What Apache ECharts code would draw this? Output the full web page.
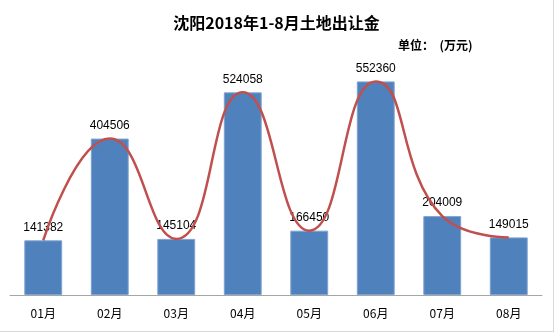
<!DOCTYPE html>
<html>
<head>
<meta charset="utf-8">
<script src="https://cdn.jsdelivr.net/npm/echarts@6/dist/echarts.min.js"></script>
<style>
  html, body { margin: 0; padding: 0; background: #fff; }
  #chart { width: 554px; height: 332px; box-sizing: border-box; border-right: 1px solid #d9d9d9; border-bottom: 1px solid #d9d9d9; }
</style>
</head>
<body>
<div id="chart"></div>
<script>
// Monthly land transfer revenue, Shenyang, Jan–Aug 2018 (unit: 10k yuan)
const months = ['01月', '02月', '03月', '04月', '05月', '06月', '07月', '08月'];
const revenue = [141382, 404506, 145104, 524058, 166450, 552360, 204009, 149015];

const chart = echarts.init(document.getElementById('chart'), null, { renderer: 'canvas' });

chart.setOption({
  animation: false,
  backgroundColor: '#ffffff',
  title: [
    {
      text: '沈阳2018年1-8月土地出让金',
      left: 'center',
      top: 10,
      textStyle: { fontFamily: 'Noto Sans CJK SC', fontSize: 16, fontWeight: 'bold', color: '#000' }
    },
    {
      text: '单位：  (万元)',
      left: 393,
      top: 34,
      textStyle: { fontFamily: 'Noto Sans CJK SC', fontSize: 12, fontWeight: 'bold', color: '#000' }
    }
  ],
  grid: { left: 10, right: 11, top: 63, bottom: 36, containLabel: false },
  xAxis: {
    type: 'category',
    data: months,
    axisLine: { lineStyle: { color: '#a6a6a6', width: 1 } },
    axisTick: { show: false },
    axisLabel: { color: '#000', fontSize: 12, fontFamily: 'Noto Sans CJK SC', margin: 12 }
  },
  yAxis: {
    type: 'value',
    min: 0,
    max: 600000,
    show: false,
    splitLine: { show: false }
  },
  series: [
    {
      type: 'bar',
      data: revenue,
      barWidth: '57%',
      itemStyle: { color: '#4f81bd', borderColor: '#7fa3d1', borderWidth: 1 },
      label: {
        show: true,
        position: 'top',
        distance: 7,
        color: '#000',
        fontSize: 12,
        fontFamily: 'Liberation Sans'
      },
      z: 1
    },
    {
      type: 'line',
      data: revenue,
      smooth: 0.5,
      symbol: 'none',
      lineStyle: { color: '#c0504d', width: 2.5 },
      z: 3
    }
  ]
});
</script>
</body>
</html>
